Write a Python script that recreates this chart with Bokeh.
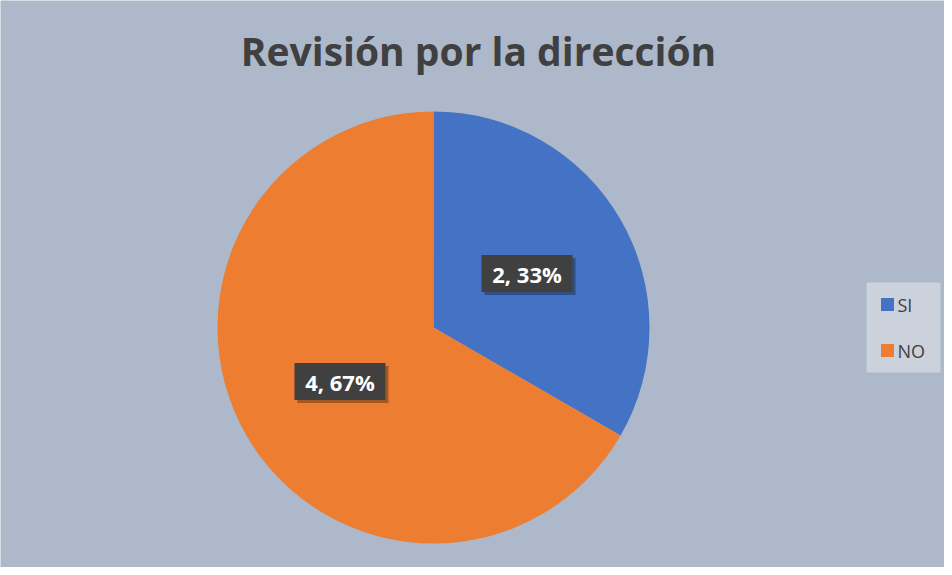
import numpy as np
from bokeh.plotting import figure
from bokeh.models import ColumnDataSource, Range1d
from bokeh.core.properties import value
from bokeh.embed import file_html
from bokeh.resources import INLINE

title = "Revisión por la dirección"
categories = ["SI", "NO"]
counts = [2, 4]
colors = ["#4472C4", "#ED7D31"]

W, H = 944, 567
p = figure(width=W, height=H, output_backend="svg", toolbar_location=None,
           x_range=Range1d(0, W), y_range=Range1d(0, H), min_border=0,
           background_fill_color="#ADB9CA", border_fill_color="#ADB9CA")
p.axis.visible = False
p.grid.visible = False
p.outline_line_color = None

cx, cy, R = 433, 240, 216
vals = np.array(counts, dtype=float)
frac = vals / vals.sum()
ends = np.pi / 2 - 2 * np.pi * np.cumsum(frac)
starts = np.concatenate([[np.pi / 2], ends[:-1]])
mids = (starts + ends) / 2
labels = [f"{c}, {round(f*100)}%" for c, f in zip(counts, frac)]
lx = cx + 0.5 * R * np.cos(mids)
ly_ = cy + 0.5 * R * np.sin(mids)

src = ColumnDataSource(dict(start=starts, end=ends, color=colors, cat=categories,
                            lx=lx, ly=ly_, sx=lx + 3, sy=ly_ - 3, label=labels))
p.wedge(x=cx, y=cy, radius=R, start_angle="start", end_angle="end",
        direction="clock", fill_color="color", line_color=None, source=src)

# label boxes with shadow
p.rect(x="sx", y="sy", width=91, height=37, source=src,
       fill_color="#000000", fill_alpha=0.3, line_color=None)
p.rect(x="lx", y="ly", width=91, height=37, source=src,
       fill_color="#404040", line_color=None)
p.text(x="lx", y="ly", text="label", source=src, text_color="white",
       text_font=value("Open Sans"), text_font_style="bold", text_font_size="22px",
       text_align="center", text_baseline="middle")

# title
p.text(x=[478], y=[H - 50], text=[title], text_color="#404040",
       text_font=value("Open Sans"), text_font_style="bold", text_font_size="39px",
       text_align="center", text_baseline="middle")

# legend
p.rect(x=[903], y=[H - 327], width=74, height=90, fill_color="#CBD2DC", line_color=None)
legy = [H - 304, H - 350]
p.rect(x=[887, 887], y=legy, width=13, height=13, fill_color=colors, line_color=None)
p.text(x=[897, 897], y=legy, text=categories, text_color="#404040",
       text_font=value("Open Sans"), text_font_size="18px",
       text_align="left", text_baseline="middle")

open("out.html", "w").write(file_html(p, INLINE))
